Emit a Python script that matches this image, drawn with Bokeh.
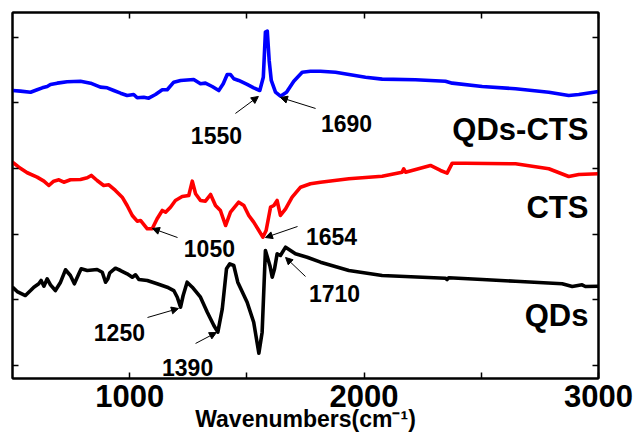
from bokeh.plotting import figure
from bokeh.models import (Range1d, LinearAxis, FixedTicker, Arrow, NormalHead,
                          ColumnDataSource, CustomLabelingPolicy)
from bokeh.core.properties import value
from bokeh.embed import file_html
from bokeh.resources import INLINE

# ---------------- data ----------------
wn_blue = [500, 534, 577, 605, 627, 648, 662, 691, 733, 790, 833, 875, 904, 932, 961,
           989, 1017, 1032, 1060, 1081, 1110, 1139, 1160, 1188, 1217, 1273, 1302, 1323,
           1352, 1380, 1399, 1416, 1430, 1444, 1465, 1501, 1529, 1555, 1570, 1579, 1587,
           1595, 1604, 1622, 1643, 1669, 1700, 1736, 1771, 1814, 1878, 2006, 2077, 2219,
           2347, 2376, 2504, 2646, 2788, 2873, 2916, 3000]
qds_cts = [4.190, 4.180, 4.164, 4.201, 4.231, 4.251, 4.282, 4.302, 4.323, 4.332, 4.302,
           4.241, 4.231, 4.190, 4.149, 4.114, 4.129, 4.079, 4.088, 4.073, 4.129, 4.201,
           4.201, 4.317, 4.343, 4.358, 4.292, 4.302, 4.251, 4.190, 4.292, 4.434, 4.434,
           4.369, 4.343, 4.282, 4.231, 4.190, 4.393, 5.079, 5.094, 4.648, 4.343, 4.164,
           4.103, 4.164, 4.332, 4.469, 4.484, 4.484, 4.469, 4.393, 4.363, 4.353, 4.332,
           4.302, 4.251, 4.216, 4.164, 4.114, 4.129, 4.175]

wn_red = [500, 527, 563, 605, 634, 655, 676, 698, 719, 747, 790, 819, 836, 861, 889, 911,
          939, 968, 989, 1011, 1032, 1046, 1075, 1096, 1117, 1139, 1153, 1174, 1195, 1224,
          1252, 1267, 1281, 1302, 1323, 1345, 1366, 1387, 1409, 1430, 1465, 1487, 1508,
          1529, 1551, 1568, 1582, 1601, 1615, 1629, 1643, 1665, 1693, 1729, 1771, 1814,
          1935, 2077, 2162, 2169, 2177, 2283, 2326, 2354, 2376, 2432, 2646, 2788, 2873,
          2916, 3000]
cts = [3.097, 3.021, 2.936, 2.869, 2.808, 2.742, 2.808, 2.829, 2.792, 2.829, 2.834, 2.859,
       2.895, 2.818, 2.742, 2.753, 2.666, 2.564, 2.437, 2.285, 2.198, 2.209, 2.082, 2.082,
       2.234, 2.361, 2.335, 2.411, 2.513, 2.574, 2.590, 2.808, 2.616, 2.513, 2.503, 2.605,
       2.437, 2.361, 2.132, 2.335, 2.488, 2.437, 2.285, 2.183, 2.056, 1.954, 2.056, 2.411,
       2.437, 2.513, 2.285, 2.387, 2.564, 2.716, 2.768, 2.792, 2.844, 2.884, 2.945, 2.997,
       2.945, 3.047, 2.971, 2.930, 3.082, 3.082, 3.073, 2.997, 2.879, 2.910, 2.920]

wn_black = [500, 520, 555, 577, 591, 612, 622, 634, 648, 662, 683, 705, 726, 747, 764,
            783, 793, 819, 861, 883, 897, 907, 915, 939, 961, 989, 1011, 1025, 1039, 1075,
            1117, 1160, 1188, 1203, 1217, 1228, 1245, 1267, 1302, 1331, 1359, 1376, 1395,
            1413, 1427, 1444, 1461, 1501, 1529, 1551, 1565, 1579, 1598, 1608, 1618, 1629,
            1643, 1665, 1686, 1707, 1757, 1814, 1935, 2077, 2347, 2354, 2361, 2504, 2646,
            2845, 2888, 2930, 2944, 3000]
qds = [1.192, 1.126, 1.065, 1.141, 1.192, 1.244, 1.294, 1.207, 1.320, 1.228, 1.141, 1.268,
       1.457, 1.370, 1.244, 1.396, 1.472, 1.446, 1.462, 1.420, 1.268, 1.320, 1.411, 1.481,
       1.446, 1.396, 1.344, 1.381, 1.309, 1.294, 1.244, 1.192, 1.141, 1.039, 0.887, 1.065,
       1.268, 1.192, 1.039, 0.811, 0.608, 0.506, 0.862, 1.472, 1.548, 1.523, 1.268, 0.963,
       0.658, 0.186, 0.506, 1.751, 1.523, 1.344, 1.472, 1.701, 1.675, 1.802, 1.751, 1.701,
       1.649, 1.573, 1.446, 1.370, 1.329, 1.309, 1.335, 1.309, 1.283, 1.244, 1.202, 1.228,
       1.202, 1.207]

series_names = ["QDs-CTS", "CTS", "QDs"]
series_colors = ["#0000ff", "#ff0000", "#000000"]
series_label_y = [3.596, 2.407, 0.760]

# peak annotations: label, label x, label baseline y, arrow start, arrow tip
ann_text = ["1550", "1690", "1050", "1654", "1250", "1390", "1710"]
ann_x = [1370, 1925, 1340, 1861, 956, 1247, 1874]
ann_y = [3.504, 3.687, 1.782, 1.965, 0.501, -0.032, 1.096]
arr_x0 = [1451, 1793, 1204, 1716, 1076, 1281, 1750]
arr_y0 = [3.840, 3.916, 1.949, 2.117, 0.730, 0.334, 1.355]
arr_x1 = [1549, 1643, 1097, 1579, 1208, 1370, 1665]
arr_y1 = [4.099, 4.084, 2.087, 1.949, 0.867, 0.501, 1.645]

x_labeled_ticks = [1000, 2000, 3000]
x_other_ticks = [1500, 2500]
y_ticks = [0, 1, 2, 3, 4, 5]

FONT = "Liberation Sans"

# ---------------- figure ----------------
p = figure(width=635, height=436, x_range=Range1d(500, 3000),
           y_range=Range1d(-0.2, 5.379), output_backend="svg",
           toolbar_location=None, min_border_left=12, min_border_right=37,
           min_border_top=12, min_border_bottom=58)
p.grid.visible = False
p.outline_line_color = "black"
p.outline_line_width = 2
p.background_fill_color = "white"
p.border_fill_color = "white"

for wn, ys, col in zip([wn_blue, wn_red, wn_black], [qds_cts, cts, qds], series_colors):
    p.line(wn, ys, line_color=col, line_width=3.6, line_join="round")

no_labels = CustomLabelingPolicy(code="""
    for (const i of indices) indices.unset(i)
    return indices
""")

# axes
xa = p.xaxis[0]
xa.ticker = FixedTicker(ticks=x_labeled_ticks, minor_ticks=x_other_ticks)
xa.major_label_text_font = FONT
xa.major_label_text_font_style = "bold"
xa.major_label_text_font_size = "31px"
xa.major_label_text_color = "black"
xa.major_label_standoff = 6
xa.axis_label = "Wavenumbers(cm\u207b\u00b9)"
xa.axis_label_text_font = FONT
xa.axis_label_text_font_style = "bold"
xa.axis_label_text_font_size = "23px"
xa.axis_label_text_color = "black"
xa.axis_label_standoff = -4

ya = p.yaxis[0]
ya.ticker = FixedTicker(ticks=y_ticks)

top = LinearAxis(ticker=FixedTicker(ticks=x_labeled_ticks, minor_ticks=x_other_ticks))
right = LinearAxis(ticker=FixedTicker(ticks=y_ticks))
p.add_layout(top, "above")
p.add_layout(right, "right")

for ax in (ya, top, right):
    ax.major_label_policy = no_labels
    ax.major_label_standoff = 0

for ax in (xa, ya, top, right):
    ax.axis_line_width = 2
    ax.axis_line_color = "black"
    ax.major_tick_in = 6
    ax.major_tick_out = 0
    ax.major_tick_line_width = 1.5
    ax.minor_tick_in = 6
    ax.minor_tick_out = 0
    ax.minor_tick_line_width = 1.5
    ax.minor_tick_line_color = "black"

# series labels
p.text(x=[2957] * 3, y=series_label_y, text=series_names, text_align="right",
       text_baseline="alphabetic", text_font=value(FONT), text_font_style="bold",
       text_font_size="31px", text_color="black")

# peak labels
p.text(x=ann_x, y=ann_y, text=ann_text, text_align="center", text_baseline="alphabetic",
       text_font=value(FONT), text_font_style="bold", text_font_size="23px",
       text_color="black")

asrc = ColumnDataSource(dict(x0=arr_x0, y0=arr_y0, x1=arr_x1, y1=arr_y1))
p.add_layout(Arrow(end=NormalHead(size=7, fill_color="black", line_color="black"),
                   x_start="x0", y_start="y0", x_end="x1", y_end="y1",
                   line_color="black", line_width=1, source=asrc))

open("out.html", "w").write(file_html(p, INLINE))
